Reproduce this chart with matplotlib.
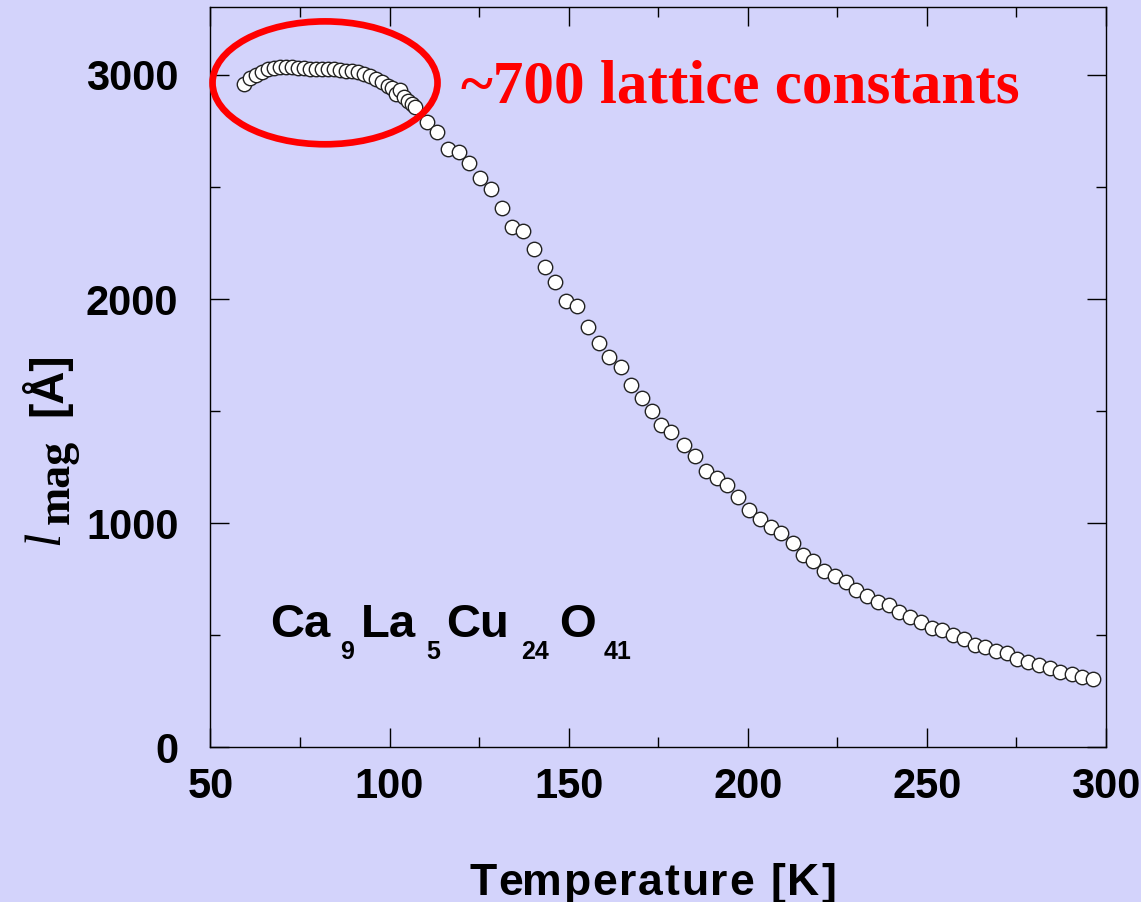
import matplotlib
matplotlib.use("Agg")
import matplotlib.pyplot as plt
from matplotlib.patches import Ellipse
from matplotlib.transforms import IdentityTransform
from matplotlib.ticker import MultipleLocator
from matplotlib.font_manager import FontProperties

# Correlation length vs temperature
temperature = [
    59.4, 61.0, 62.7, 64.4, 66.1, 67.7, 69.4, 71.1, 72.8, 74.4,
    76.1, 77.8, 79.5, 81.1, 82.8, 84.5, 86.2, 87.8, 89.5, 91.2,
    92.9, 94.5, 96.2, 97.9, 99.6, 100.7, 101.8, 102.9, 104.0, 105.1,
    106.2, 107.1, 110.4, 113.3, 116.4, 119.4, 122.3, 125.2, 128.3, 131.4,
    134.3, 137.4, 140.3, 143.3, 146.2, 149.3, 152.3, 155.4, 158.4, 161.3,
    164.6, 167.3, 170.4, 173.4, 175.9, 178.7, 182.2, 185.4, 188.3, 191.3,
    194.3, 197.3, 200.3, 203.3, 206.4, 209.4, 212.5, 215.3, 218.3, 221.2,
    224.3, 227.3, 230.3, 233.3, 236.4, 239.3, 242.3, 245.4, 248.4, 251.3,
    254.3, 257.3, 260.3, 263.3, 266.3, 269.4, 272.3, 275.3, 278.3, 281.3,
    284.3, 287.3, 290.4, 293.4, 296.3,
]
l_mag = [
    2958, 2984, 3000, 3013, 3024, 3031, 3036, 3033, 3033, 3032,
    3029, 3027, 3025, 3027, 3027, 3024, 3021, 3018, 3016, 3011,
    3004, 2993, 2982, 2969, 2949, 2942, 2915, 2931, 2902, 2884,
    2871, 2857, 2791, 2743, 2669, 2654, 2605, 2538, 2491, 2404,
    2323, 2304, 2225, 2143, 2077, 1990, 1967, 1874, 1803, 1743,
    1696, 1618, 1558, 1500, 1437, 1407, 1351, 1298, 1233, 1202,
    1169, 1116, 1058, 1021, 984, 955, 910, 859, 832, 785,
    764, 739, 702, 675, 650, 635, 604, 583, 560, 535,
    523, 500, 482, 457, 446, 431, 420, 394, 382, 367,
    353, 338, 326, 315, 305,
]

x_ticks = [50, 100, 150, 200, 250, 300]
y_ticks = [0, 1000, 2000, 3000]

bg = "#d3d3fb"
sans = "Liberation Sans"
serif = "Liberation Serif"

fig = plt.figure(figsize=(11.41, 9.02), dpi=100, facecolor=bg)
ax = fig.add_axes([0.1844, 0.1713, 0.9693 - 0.1844, 0.9917 - 0.1713])
ax.set_facecolor(bg)

ax.plot(temperature, l_mag, linestyle="none", marker="o", markersize=10.4,
        markerfacecolor="white", markeredgecolor="#222222", markeredgewidth=1.0)

ax.set_xlim(50, 300)
ax.set_ylim(0, 3300)
ax.set_xticks(x_ticks)
ax.set_yticks(y_ticks)
ax.xaxis.set_minor_locator(MultipleLocator(25))
ax.yaxis.set_minor_locator(MultipleLocator(500))
ax.tick_params(which="both", direction="in", top=True, right=True, width=1.0, color="black")
ax.tick_params(which="major", length=13.5)
ax.tick_params(which="minor", length=7)
ax.tick_params(axis="x", which="major", pad=14)
ax.tick_params(axis="y", which="major", pad=23)
for lab in ax.get_xticklabels() + ax.get_yticklabels():
    lab.set_fontfamily(sans)
    lab.set_fontweight("bold")
    lab.set_fontsize(30)
for sp in ax.spines.values():
    sp.set_linewidth(1.0)

ident = IdentityTransform()
H = 902

# x label with slight letter spacing, like the original slide
xlabel = "Temperature [K]"
fp = FontProperties(family=sans, weight="bold", size=32)
renderer = fig.canvas.get_renderer()
x0, x1 = 469, 836
full_w = renderer.get_text_width_height_descent(xlabel, fp, ismath=False)[0]
gap = (x1 - x0 - full_w) / (len(xlabel) - 1)
for i, ch in enumerate(xlabel):
    if ch == " ":
        continue
    pre = renderer.get_text_width_height_descent(xlabel[:i] + "|", fp, ismath=False)[0] \
        - renderer.get_text_width_height_descent("|", fp, ismath=False)[0] if i else 0
    fig.text(x0 + pre + i * gap, H - 895, ch, transform=ident, ha="left", va="baseline",
             fontproperties=fp)

# y label built from pieces (rotated), pixel positions
fig.text(58, H - 545, "l", transform=ident, rotation=90, rotation_mode="anchor",
         ha="left", va="baseline", fontfamily=serif, fontstyle="italic", fontsize=37)
fig.text(69, H - 524, "mag", transform=ident, rotation=90, rotation_mode="anchor",
         ha="left", va="baseline", fontfamily=serif, fontweight="bold", fontsize=33)
fig.text(61, H - 416, "[Å]", transform=ident, rotation=90, rotation_mode="anchor",
         ha="left", va="baseline", fontfamily=sans, fontweight="bold", fontsize=33)

# compound formula with separated subscripts
main_kw = dict(transform=ident, ha="left", va="baseline", fontfamily=sans, fontweight="bold", fontsize=34)
sub_kw = dict(transform=ident, ha="left", va="baseline", fontfamily=sans, fontweight="bold", fontsize=18)
fig.text(270, H - 637, "Ca", **main_kw)
fig.text(340, H - 659, "9", **sub_kw)
fig.text(361, H - 637, "La", **main_kw)
fig.text(426, H - 659, "5", **sub_kw)
fig.text(446, H - 637, "Cu", **main_kw)
fig.text(521, H - 659, "24", **sub_kw)
fig.text(559, H - 637, "O", **main_kw)
fig.text(604, H - 659, "41", **sub_kw)

# red highlight ellipse and annotation
ax.add_patch(Ellipse((82.0, 2964), 62.8, 548, fill=False, edgecolor="red",
                     linewidth=4.8, clip_on=False, zorder=5))
ax.text(119.9, 2875, "~700 lattice constants", color="red", fontfamily=serif,
        fontweight="bold", fontsize=44, ha="left", va="baseline")

fig.savefig("out.png", dpi=100, facecolor=bg)
